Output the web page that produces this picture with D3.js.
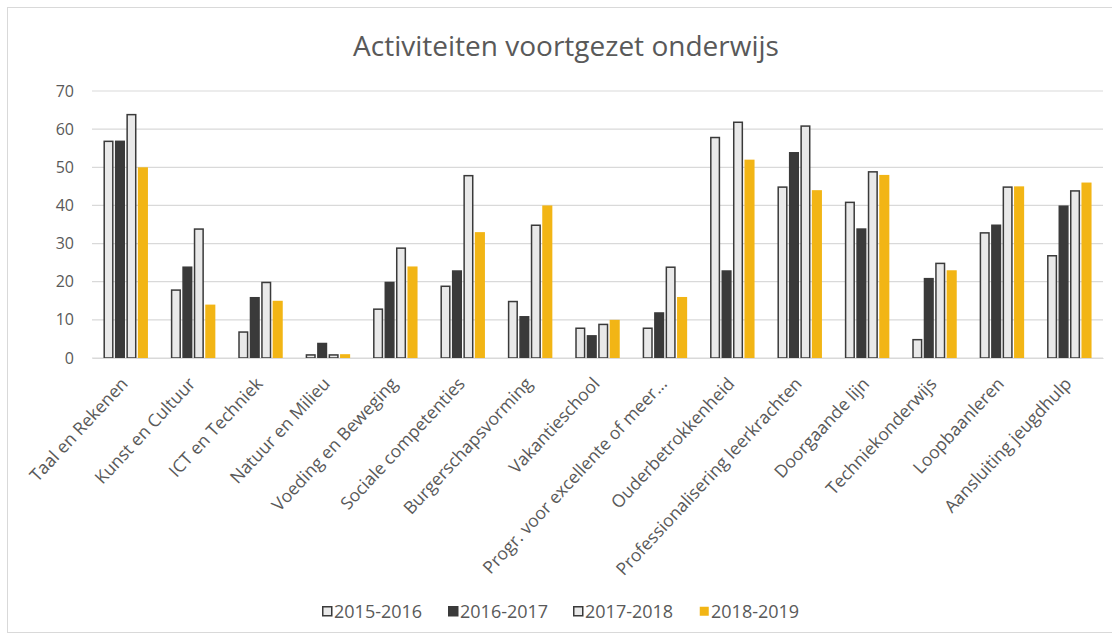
<!DOCTYPE html>
<html lang="nl">
<head>
<meta charset="UTF-8">
<title>Activiteiten voortgezet onderwijs</title>
<script src="https://d3js.org/d3.v7.min.js"></script>
<style>
    body { margin: 0; background: #fff; }
    svg { display: block; font-family: "Open Sans", "Noto Sans", sans-serif; }
    .tick text { fill: #595959; }
</style>
</head>
<body>
<svg id="chart" width="1112" height="641"></svg>
<script>
// categories and the four school years
const categories = [
    "Taal en Rekenen", "Kunst en Cultuur", "ICT en Techniek", "Natuur en Milieu",
    "Voeding en Beweging", "Sociale competenties", "Burgerschapsvorming", "Vakantieschool",
    "Progr. voor excellente of meer...", "Ouderbetrokkenheid", "Professionalisering leerkrachten",
    "Doorgaande lijn", "Techniekonderwijs", "Loopbaanleren", "Aansluiting jeugdhulp"
];
const years = ["2015-2016", "2016-2017", "2017-2018", "2018-2019"];

const v2015 = [57, 18, 7, 1, 13, 19, 15, 8, 8, 58, 45, 41, 5, 33, 27];
const v2016 = [57, 24, 16, 4, 20, 23, 11, 6, 12, 23, 54, 34, 21, 35, 40];
const v2017 = [64, 34, 20, 1, 29, 48, 35, 9, 24, 62, 61, 49, 25, 45, 44];
const v2018 = [50, 14, 15, 1, 24, 33, 40, 10, 16, 52, 44, 48, 23, 45, 46];

const yTicks = [0, 10, 20, 30, 40, 50, 60, 70];

const series = [v2015, v2016, v2017, v2018];
const fills = ["#e9e9e9", "#3a3a3a", "#e9e9e9", "#f2b515"];
const strokes = ["#3a3a3a", "#3a3a3a", "#3a3a3a", "none"];

const svg = d3.select("#chart");
const margin = { left: 92, right: 9, top: 91, bottom: 283 };
const W = 1112, H = 641;

// outer chart frame
svg.append("rect")
    .attr("x", 7.5).attr("y", 7.5)
    .attr("width", W - 6).attr("height", 625)
    .attr("fill", "#fff").attr("stroke", "#d9d9d9");

const x = d3.scaleBand()
    .domain(categories)
    .range([margin.left, W - margin.right])
    .paddingInner(0.34).paddingOuter(0.17);

const xi = d3.scaleBand()
    .domain(years)
    .range([0, x.bandwidth()])
    .paddingInner(0.12);

const y = d3.scaleLinear()
    .domain([0, 70])
    .range([H - margin.bottom, margin.top]);

// gridlines
svg.append("g")
    .selectAll("line")
    .data(yTicks)
    .join("line")
    .attr("x1", margin.left).attr("x2", W - margin.right)
    .attr("y1", d => y(d)).attr("y2", d => y(d))
    .attr("stroke", "#d9d9d9").attr("stroke-width", 1.2);

// y axis labels
const yAxis = svg.append("g")
    .attr("transform", `translate(${margin.left - 18},0)`)
    .call(d3.axisLeft(y).tickValues(yTicks).tickSize(0).tickPadding(0))
    .attr("font-family", null);
yAxis.select(".domain").remove();
yAxis.selectAll("text").style("font-size", "16px");

// bars
const groups = svg.append("g")
    .selectAll("g")
    .data(categories)
    .join("g")
    .attr("transform", d => `translate(${x(d)},0)`);

groups.selectAll("rect")
    .data((c, i) => years.map((yr, k) => ({ yr, k, value: series[k][i] })))
    .join("rect")
    .attr("x", d => xi(d.yr) + (d.k === 3 ? 0 : 0.75))
    .attr("width", d => xi.bandwidth() - (d.k === 3 ? 0 : 1.5))
    .attr("y", d => y(d.value) + (d.k === 3 ? 0 : 0.75))
    .attr("height", d => Math.max(0, y(0) - y(d.value) - (d.k === 3 ? 0 : 0.75)))
    .attr("fill", d => fills[d.k])
    .attr("stroke", d => strokes[d.k])
    .attr("stroke-width", 1.5);

// x axis
const xAxis = svg.append("g")
    .attr("transform", `translate(0,${y(0)})`)
    .call(d3.axisBottom(x).tickSize(0).tickPadding(0))
    .attr("font-family", null);
xAxis.select(".domain").attr("stroke", "#d9d9d9").attr("stroke-width", 1.2);
xAxis.selectAll("text")
    .style("font-size", "17.5px")
    .attr("text-anchor", "end")
    .attr("y", 0)
    .attr("dy", "0.8em")
    .attr("transform", "translate(-7,17) rotate(-47)");

// title
svg.append("text")
    .attr("x", 566).attr("y", 56)
    .attr("text-anchor", "middle")
    .attr("fill", "#595959")
    .style("font-size", "28px")
    .text("Activiteiten voortgezet onderwijs");

// legend
const legendX = [322, 448, 573, 699];
const legend = svg.append("g")
    .selectAll("g")
    .data(years)
    .join("g")
    .attr("transform", (d, i) => `translate(${legendX[i]},612)`);

legend.append("rect")
    .attr("x", 0.75).attr("y", -5.25)
    .attr("width", 9).attr("height", 9)
    .attr("fill", (d, i) => fills[i])
    .attr("stroke", (d, i) => strokes[i])
    .attr("stroke-width", 1.5);

legend.append("text")
    .attr("x", 12).attr("y", 0)
    .attr("dy", "0.35em")
    .attr("fill", "#595959")
    .style("font-size", "18px")
    .text(d => d);
</script>
</body>
</html>
